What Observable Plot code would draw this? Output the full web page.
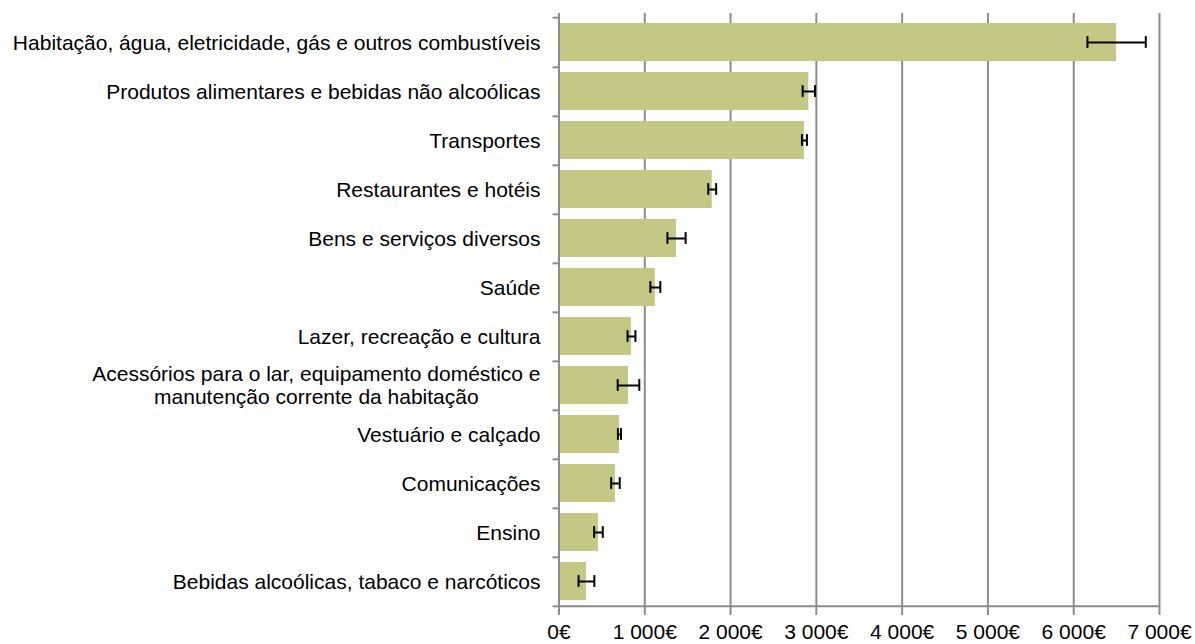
<!DOCTYPE html>
<html>
<head>
<meta charset="utf-8">
<script src="https://cdn.jsdelivr.net/npm/d3@7"></script>
<script src="https://cdn.jsdelivr.net/npm/@observablehq/plot@0.6"></script>
<style>
  html, body { margin: 0; padding: 0; background: #fff; }
  #chart { width: 1195px; height: 644px; }
</style>
</head>
<body>
<div id="chart"></div>
<script>
const categories = [
  "Habitação, água, eletricidade, gás e outros combustíveis",
  "Produtos alimentares e bebidas não alcoólicas",
  "Transportes",
  "Restaurantes e hotéis",
  "Bens e serviços diversos",
  "Saúde",
  "Lazer, recreação e cultura",
  "Acessórios para o lar, equipamento doméstico e\nmanutenção corrente da habitação",
  "Vestuário e calçado",
  "Comunicações",
  "Ensino",
  "Bebidas alcoólicas, tabaco e narcóticos"
];
const values  = [6500, 2912, 2861, 1786, 1370, 1123, 845, 810, 705, 658, 460, 320];
const margins = [ 340,   72,   29,   46,  106,   58,  46, 126,  18,  50,  50,  92];
const xTicks  = [0, 1000, 2000, 3000, 4000, 5000, 6000, 7000];

const data = categories.map((c, i) => ({
  cat: c, value: values[i], lo: values[i] - margins[i], hi: values[i] + margins[i]
}));

const W = 1195, H = 644;
const mL = 558.5, mR = 36, mT = 13, mB = 35;
const pad = 0.23;
const step = (H - mT - mB) / categories.length;
const bw = step * (1 - pad);
const capH = 12;
const plotW = W - mL - mR;
const tickLen = 6 * (xTicks[xTicks.length - 1] - xTicks[0]) / plotW;
const grid = "#8c8c8c";
const fs = 21;
const fmt = d => d3.format(",")(d).replace(/,/g, " ") + "€";

const chart = Plot.plot({
  width: W,
  height: H,
  marginLeft: mL,
  marginRight: mR,
  marginTop: mT,
  marginBottom: mB,
  style: { fontFamily: "'Liberation Sans', Arial, sans-serif", background: "#fff", color: "#000", overflow: "visible" },
  x: { domain: [xTicks[0], xTicks[xTicks.length - 1]] },
  y: { domain: categories, paddingInner: pad, paddingOuter: pad / 2 },
  marks: [
    Plot.ruleX(xTicks.slice(1), { stroke: grid, strokeWidth: 2 }),
    Plot.barX(data, { x: "value", y: "cat", fill: "#c5c785" }),
    Plot.ruleX([0], { stroke: grid, strokeWidth: 2 }),
    Plot.ruleY(categories, { y: d => d, x1: -tickLen, x2: 0, dy: step / 2, stroke: grid, strokeWidth: 2 }),
    Plot.ruleY([categories[0]], { y: d => d, x1: -tickLen, x2: 0, dy: -step / 2, stroke: grid, strokeWidth: 2 }),
    Plot.ruleY([categories[categories.length - 1]], { y: d => d, x1: xTicks[0], x2: xTicks[xTicks.length - 1], dy: step / 2, stroke: grid, strokeWidth: 2 }),
    Plot.ruleY(data, { y: "cat", x1: "lo", x2: "hi", stroke: "#000", strokeWidth: 2 }),
    Plot.tickX(data, { x: "lo", y: "cat", stroke: "#000", strokeWidth: 2, insetTop: (bw - capH) / 2, insetBottom: (bw - capH) / 2 }),
    Plot.tickX(data, { x: "hi", y: "cat", stroke: "#000", strokeWidth: 2, insetTop: (bw - capH) / 2, insetBottom: (bw - capH) / 2 }),
    Plot.axisX({ ticks: xTicks, tickFormat: fmt, tickSize: 6, tickPadding: 9, stroke: grid, strokeWidth: 2, fill: "#000", fontSize: fs, label: null }),
    Plot.axisY({ tickSize: 0, tickPadding: 18.5, fill: "#000", fontSize: fs, lineHeight: 1.1, label: null })
  ]
});
document.getElementById("chart").appendChild(chart);

// Multi-line category labels: lines centred on each other, block right-aligned
d3.select(chart).selectAll("text").each(function () {
  const spans = d3.select(this).selectAll("tspan");
  if (spans.size() > 1) {
    let maxW = 0;
    spans.each(function () { maxW = Math.max(maxW, this.getComputedTextLength()); });
    d3.select(this).attr("text-anchor", "middle");
    spans.attr("x", -maxW / 2);
  }
});
</script>
</body>
</html>
